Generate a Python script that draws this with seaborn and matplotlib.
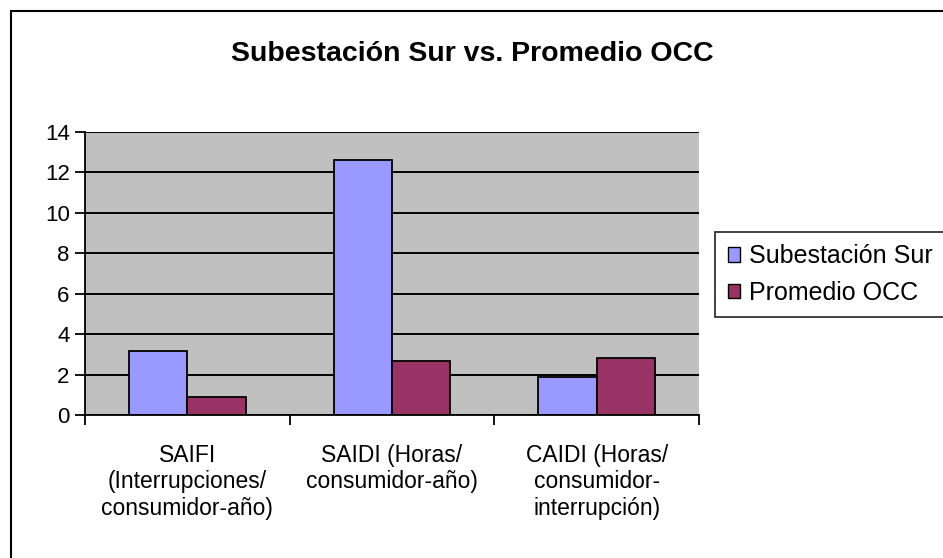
import pandas as pd
import matplotlib.pyplot as plt
import seaborn as sns
from matplotlib.lines import Line2D

categorias = ['SAIFI\n(Interrupciones/\nconsumidor-año)',
              'SAIDI (Horas/\nconsumidor-año)',
              'CAIDI (Horas/\nconsumidor-\ninterrupción)']
sur = [3.15, 12.62, 1.87]
occ = [0.87, 2.66, 2.84]
series = ['Subestación Sur', 'Promedio OCC']

df = pd.DataFrame({
    'cat': categorias * 2,
    'valor': sur + occ,
    'serie': [series[0]] * 3 + [series[1]] * 3,
})

sns.set_theme(style="white")
plt.rcParams['font.family'] = ['Liberation Sans', 'DejaVu Sans']
plt.rcParams['text.color'] = 'black'
plt.rcParams['xtick.color'] = 'black'
plt.rcParams['ytick.color'] = 'black'

fig = plt.figure(figsize=(9.43, 5.58), dpi=100)
ax = fig.add_axes([85 / 943, 1 - 415 / 558, (699 - 85) / 943, (415 - 132) / 558])

sns.barplot(data=df, x='cat', y='valor', hue='serie', ax=ax,
            palette=['#9999FF', '#993366'], width=0.57, gap=0,
            edgecolor='black', linewidth=1.3, saturation=1)

ax.set_facecolor('#C0C0C0')
ax.set_ylim(0, 14)
ax.set_yticks(range(0, 15, 2))
ax.set_xlim(-0.5, 2.5)
ax.grid(True, axis='y', color='black', linewidth=1.4)
ax.set_axisbelow(True)
ax.set_xlabel('')
ax.set_ylabel('')

ax.set_xticks([-0.5, 0.5, 1.5, 2.5], minor=True)
ax.tick_params(axis='x', which='minor', length=7, width=1.3, color='black', direction='out', bottom=True)
ax.tick_params(axis='x', which='major', length=0, pad=21, labelsize=16.5, labelcolor='black')
ax.tick_params(axis='y', length=7, width=1.3, color='black', direction='out', left=True,
               labelsize=16, pad=4, labelcolor='black')
for lbl in ax.get_xticklabels():
    lbl.set_linespacing(1.18)
    lbl.set_horizontalalignment('center')

for s in ['top', 'right']:
    ax.spines[s].set_visible(False)
for s in ['left', 'bottom']:
    ax.spines[s].set_color('black')
    ax.spines[s].set_linewidth(1.3)

leg = ax.legend(loc='upper left', bbox_to_anchor=(715 / 943, 1 - 232 / 558),
                bbox_transform=fig.transFigure, frameon=True, fontsize=18,
                handlelength=0.5, handleheight=0.5, handletextpad=0.35,
                borderpad=0.5, labelspacing=0.5, borderaxespad=0, fancybox=False)
leg.get_frame().set_edgecolor('black')
leg.get_frame().set_linewidth(1.3)
for t in leg.get_texts():
    t.set_color('black')
for h in leg.legend_handles:
    h.set_edgecolor('black')
    h.set_linewidth(1)

fig.text(472 / 943, 1 - 54 / 558, 'Subestación Sur vs. Promedio OCC',
         ha='center', va='center', fontsize=20.5, fontweight='bold', color='black')

# borde exterior del gráfico
fig.add_artist(Line2D([10.5 / 943, 10.5 / 943], [0, 1 - 10.5 / 558], color='black', linewidth=1.5))
fig.add_artist(Line2D([10.5 / 943, 1], [1 - 10.5 / 558, 1 - 10.5 / 558], color='black', linewidth=1.5))

plt.savefig('out.png', dpi=100)
